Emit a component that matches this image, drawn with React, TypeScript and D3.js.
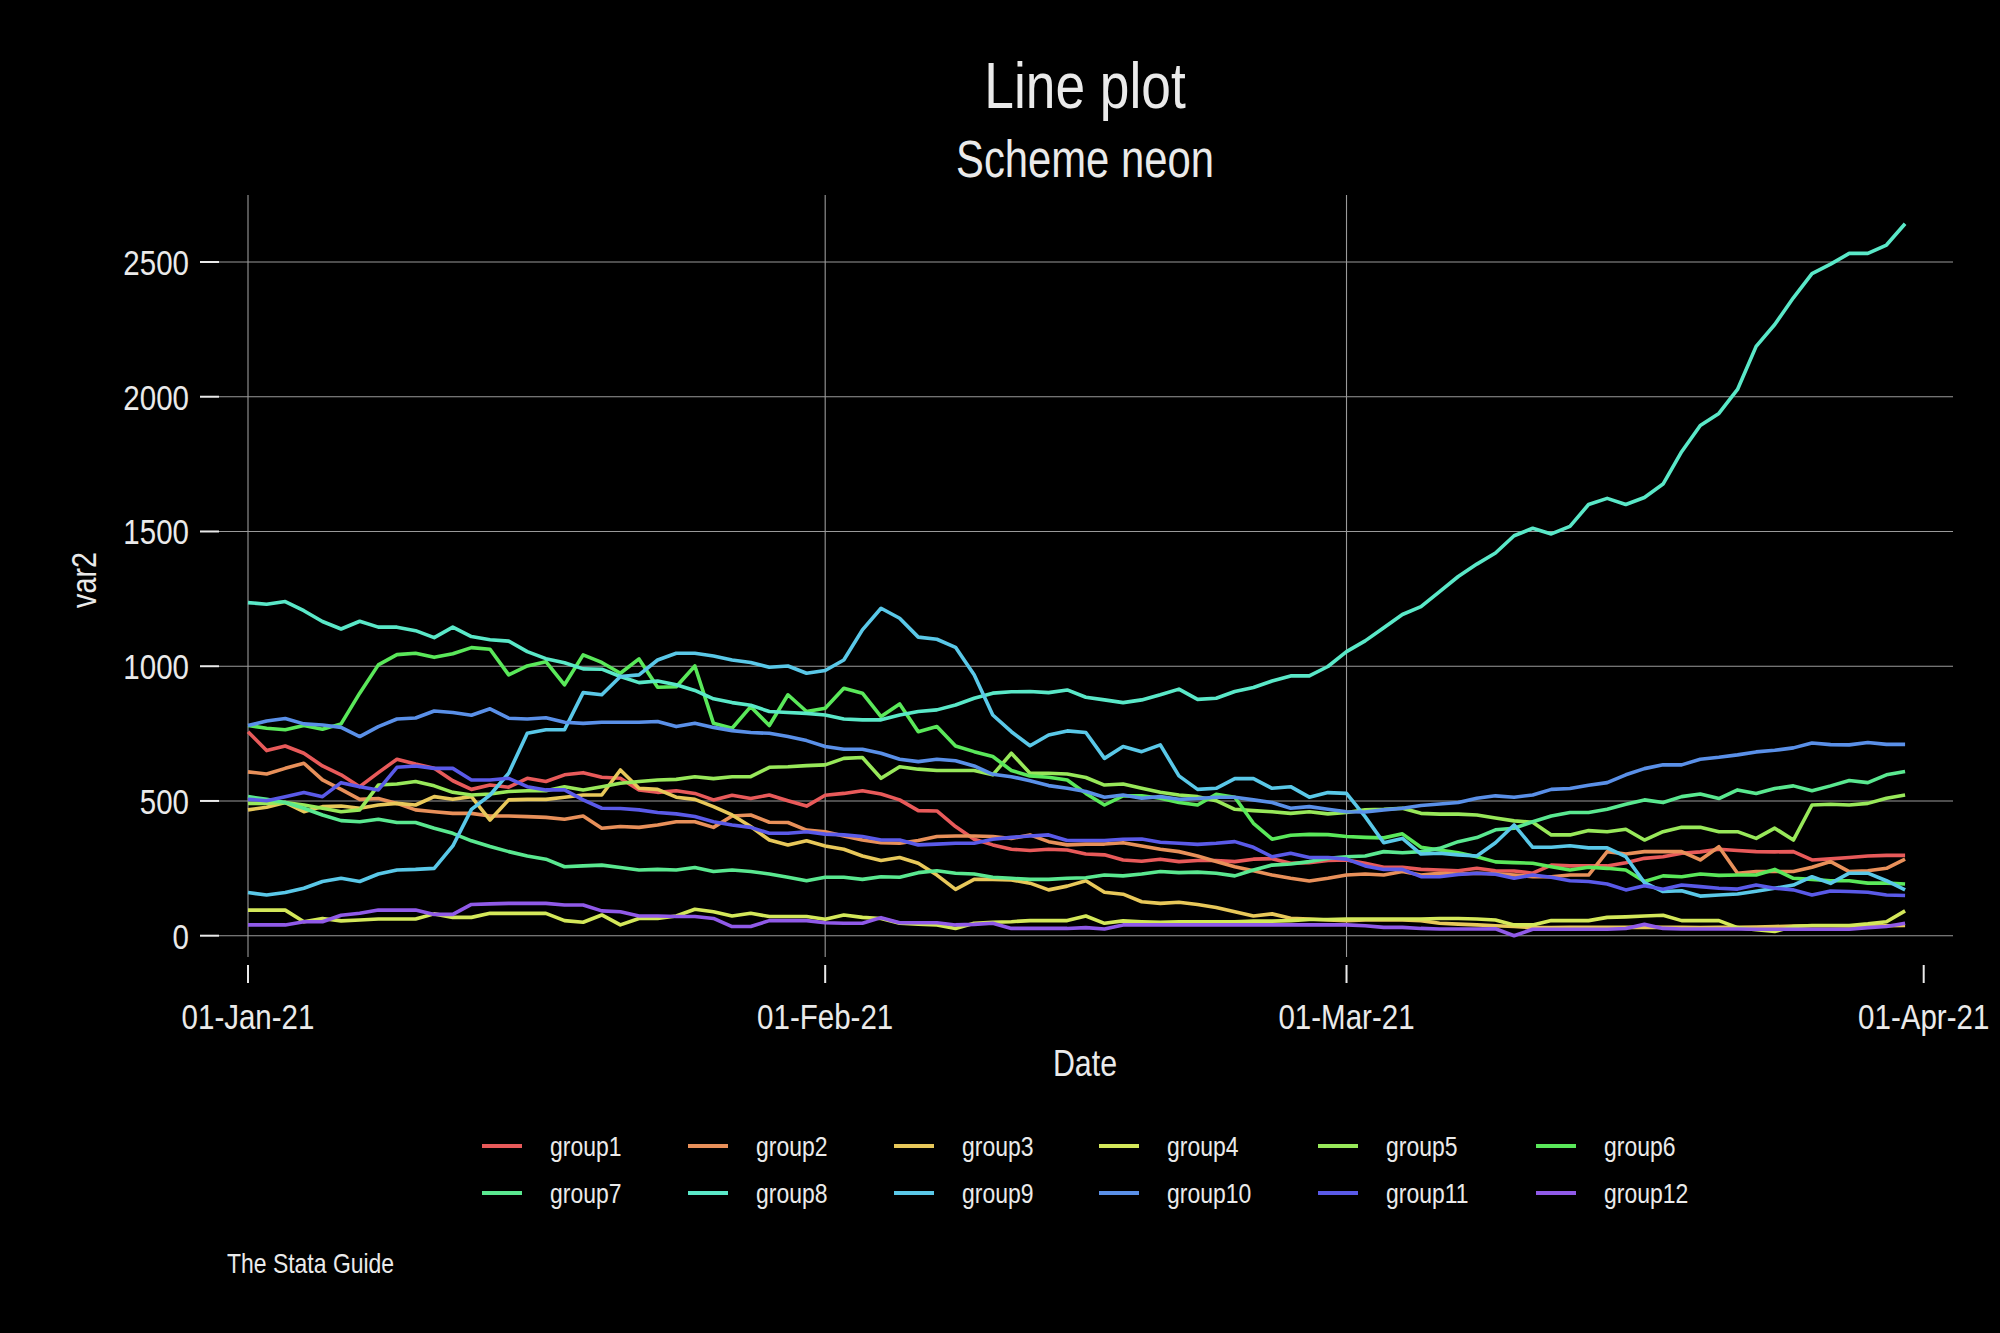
import React from "react";
import * as d3 from "d3";

// ---------- data ----------
const startDate = "2021-01-01";
const xTickDates = ["2021-01-01", "2021-02-01", "2021-03-01", "2021-04-01"];
const xGridDates = ["2021-01-01", "2021-02-01", "2021-03-01"];
const yTicks = [0, 500, 1000, 1500, 2000, 2500];
const groupNames = ["group1","group2","group3","group4","group5","group6","group7","group8","group9","group10","group11","group12"];
const groupColors = ["#e85a5a","#e8905a","#e8c85a","#d4e85a","#98e85a","#5ae85a","#5ae890","#5ae8c8","#5ac8e8","#5a90e8","#5a5ae8","#905ae8"];

const group1 = [757,687,704,677,630,597,553,605,655,637,621,575,543,559,551,584,572,597,605,588,584,541,532,
  538,528,504,521,509,522,501,481,521,528,538,526,504,464,463,405,358,337,321,316,321,318,303,
  300,281,276,284,275,279,279,275,284,286,269,271,279,281,269,254,254,246,244,241,250,241,
  240,232,262,259,259,259,271,287,293,306,311,321,316,312,311,312,281,285,290,296,298,298];
const group2 = [608,600,621,640,578,543,506,509,491,467,460,454,454,444,444,442,439,432,444,399,405,402,411,
  423,423,402,444,448,421,420,392,386,370,355,345,343,353,368,370,370,368,361,374,349,337,340,
  340,345,333,321,312,296,275,256,241,225,213,203,213,225,229,225,238,225,232,229,232,230,
  225,219,219,225,225,312,303,312,312,312,281,330,232,238,238,238,254,275,238,241,250,284];
const group3 = [467,477,494,460,479,481,473,485,491,485,516,506,516,429,504,506,506,514,522,522,615,547,543,
  514,506,479,448,405,355,337,352,333,321,296,279,290,269,225,172,209,209,207,195,170,184,204,
  161,154,126,120,124,116,105,89,73,81,65,62,58,56,58,58,58,56,46,43,40,37,
  34,30,30,31,31,31,31,32,31,31,30,31,31,32,34,36,37,37,36,36,37,38];
const group4 = [95,95,95,52,64,55,58,62,62,62,81,68,68,83,83,83,83,56,50,77,40,64,64,
  73,98,89,73,83,71,71,71,61,77,68,64,46,43,40,27,46,50,52,56,56,56,73,
  46,55,52,50,52,52,52,52,54,54,56,60,60,62,62,62,62,62,64,64,62,58,
  40,40,56,56,56,68,70,73,76,56,56,56,30,22,16,34,38,38,38,44,52,92];
const group5 = [491,491,494,485,473,460,467,559,563,572,556,532,522,526,535,538,538,553,541,553,566,572,578,
  580,590,583,590,590,625,627,631,634,658,661,584,627,618,613,613,613,597,677,603,603,600,587,
  559,563,547,532,522,516,501,469,464,460,454,460,452,457,467,469,473,454,451,451,448,437,
  426,421,374,374,390,386,395,355,386,402,402,386,386,361,399,355,485,488,485,491,510,522];
const group6 = [780,770,764,780,766,786,900,1005,1043,1048,1033,1046,1069,1063,968,1001,1017,931,1042,1014,974,1027,922,
  924,1001,788,770,850,780,894,832,844,918,900,813,860,757,776,704,683,665,613,593,588,578,528,
  485,519,519,510,494,485,525,514,417,358,373,376,375,368,365,363,378,328,318,308,293,274,
  271,269,256,244,254,250,244,201,222,219,229,224,225,225,246,213,209,204,204,195,195,192];
const group7 = [516,506,494,473,448,427,423,432,420,420,399,380,352,331,312,296,284,256,259,262,253,244,246,
  244,253,238,244,238,229,217,204,217,217,209,219,217,234,241,232,229,217,213,209,209,213,215,
  225,222,229,238,234,236,232,222,244,262,266,275,287,293,296,312,308,312,324,349,364,393,
  399,423,444,457,457,469,488,504,494,516,526,509,541,528,546,556,538,556,576,568,597,609];
const group8 = [1236,1230,1240,1206,1166,1138,1167,1145,1145,1132,1106,1145,1110,1098,1093,1054,1028,1013,990,989,962,939,945,
  931,910,879,865,855,832,828,825,819,804,801,801,819,832,838,856,881,900,905,906,902,912,885,
  875,865,875,894,915,877,881,906,921,945,964,964,999,1054,1094,1143,1192,1221,1277,1333,1379,
  1420,1484,1512,1491,1519,1600,1623,1600,1626,1676,1796,1893,1938,2027,2187,2268,2367,2457,2492,2532,2532,2563,2642];
const group9 = [160,151,160,176,201,213,201,229,244,246,250,333,469,522,603,751,764,764,902,894,962,968,1023,
  1048,1048,1038,1023,1014,996,1001,974,984,1023,1135,1215,1178,1108,1100,1070,968,819,757,705,745,760,754,
  658,702,683,708,593,543,547,583,583,547,553,514,531,528,442,345,361,303,306,300,296,345,
  411,328,328,334,326,326,293,197,164,167,147,151,155,165,176,188,219,194,232,232,204,170];
const group10 = [780,797,806,786,782,773,739,776,804,808,834,828,818,842,807,804,809,792,788,792,792,792,795,
  776,788,773,761,754,751,739,724,702,692,692,677,655,646,655,649,630,599,590,575,557,547,535,
  514,522,510,516,506,509,514,514,504,494,473,479,469,460,459,467,473,483,489,494,510,519,
  514,522,543,546,558,568,597,620,634,634,655,662,671,682,688,697,715,709,708,717,710,710];
const group11 = [506,501,516,531,516,568,553,541,625,630,621,621,578,578,584,553,541,541,504,473,472,467,457,
  452,442,423,411,402,380,380,386,377,374,368,355,355,337,340,343,343,358,365,370,374,353,353,
  353,358,359,347,343,339,343,349,328,293,306,290,290,284,259,246,246,219,219,227,232,228,
  213,225,217,204,201,192,170,185,172,188,182,176,173,188,176,170,151,166,164,161,151,149];
const group12 = [40,40,40,52,52,76,83,95,95,95,79,79,116,118,120,120,120,114,114,92,89,73,73,
  71,71,64,34,34,56,56,56,48,46,46,67,48,48,48,40,42,46,27,27,27,27,30,
  25,40,40,40,40,40,40,40,40,40,40,40,40,40,37,31,31,27,25,25,25,26,
  0,24,24,24,24,24,27,42,27,25,25,25,25,24,24,24,24,24,24,30,34,46];

const seriesValues = [group1,group2,group3,group4,group5,group6,group7,group8,group9,group10,group11,group12];

// ---------- layout ----------
const W = 2000;
const H = 1333;
const FONT = "'Liberation Sans', Arial, Helvetica, sans-serif";
const NARROW = 0.82;
const TXT = "#eaeaea";
const GRID = "#9a9a9a";
const plotLeft = 219, plotRight = 1953, plotTop = 195, plotBottom = 957;
const legendCols = [482, 688, 894, 1099, 1318, 1536];
const legendRows = [1146, 1193];

const parse = (s: string) => new Date(s + "T00:00:00Z");

type TProps = { x: number; y: number; size: number; anchor?: "start" | "middle" | "end"; rotate?: number; children: React.ReactNode };
function NText({ x, y, size, anchor = "start", rotate = 0, children }: TProps) {
  const rot = rotate ? ` rotate(${rotate})` : "";
  return (
    <text transform={`translate(${x},${y})${rot} scale(${NARROW},1)`} textAnchor={anchor}
      fill={TXT} fontSize={size} fontFamily={FONT}>{children}</text>
  );
}

export default function App() {
  const start = parse(startDate);
  const x = d3.scaleUtc().domain([parse("2021-01-01"), parse("2021-04-01")]).range([248, 1923.7]);
  const y = d3.scaleLinear().domain([0, 2500]).range([935.7, 262]);
  const fmt = d3.utcFormat("%d-%b-%y");
  const line = d3.line<number>()
    .x((_, i) => x(d3.utcDay.offset(start, i)))
    .y((v) => y(v));

  return (
    <svg width={W} height={H} viewBox={`0 0 ${W} ${H}`}
      style={{ position: "absolute", left: 0, top: 0, background: "#000", display: "block" }}>
      <rect x={0} y={0} width={W} height={H} fill="#000" />
      <NText x={1085} y={108} size={65} anchor="middle">Line plot</NText>
      <NText x={1085} y={177} size={51} anchor="middle">Scheme neon</NText>

      {/* grid */}
      {yTicks.map((t) => (
        <line key={"gy" + t} x1={plotLeft} x2={plotRight} y1={y(t)} y2={y(t)} stroke={GRID} strokeWidth={1.1} />
      ))}
      {xGridDates.map((d) => (
        <line key={"gx" + d} x1={x(parse(d))} x2={x(parse(d))} y1={plotTop} y2={plotBottom} stroke={GRID} strokeWidth={1.1} />
      ))}

      {/* y axis */}
      {yTicks.map((t) => (
        <g key={"yt" + t}>
          <line x1={200} x2={plotLeft} y1={y(t)} y2={y(t)} stroke={TXT} strokeWidth={2} />
          <NText x={189} y={y(t) + 13} size={36} anchor="end">{t}</NText>
        </g>
      ))}
      <NText x={96} y={580} size={35} anchor="middle" rotate={-90}>var2</NText>

      {/* x axis */}
      {xTickDates.map((d) => (
        <g key={"xt" + d}>
          <line x1={x(parse(d))} x2={x(parse(d))} y1={965} y2={983} stroke={TXT} strokeWidth={2} />
          <NText x={x(parse(d))} y={1029} size={36} anchor="middle">{fmt(parse(d))}</NText>
        </g>
      ))}
      <NText x={1085} y={1076} size={37} anchor="middle">Date</NText>

      {/* lines */}
      {seriesValues.map((vals, k) => (
        <path key={groupNames[k]} d={line(vals) || ""} fill="none" stroke={groupColors[k]}
          strokeWidth={3.6} strokeLinejoin="round" strokeLinecap="butt" />
      ))}

      {/* legend */}
      {groupNames.map((name, k) => {
        const cx = legendCols[k % 6];
        const cy = legendRows[Math.floor(k / 6)];
        return (
          <g key={"lg" + name}>
            <line x1={cx} x2={cx + 40} y1={cy} y2={cy} stroke={groupColors[k]} strokeWidth={4} />
            <NText x={cx + 68} y={cy + 10} size={28}>{name}</NText>
          </g>
        );
      })}

      <NText x={227} y={1273} size={28}>The Stata Guide</NText>
    </svg>
  );
}
